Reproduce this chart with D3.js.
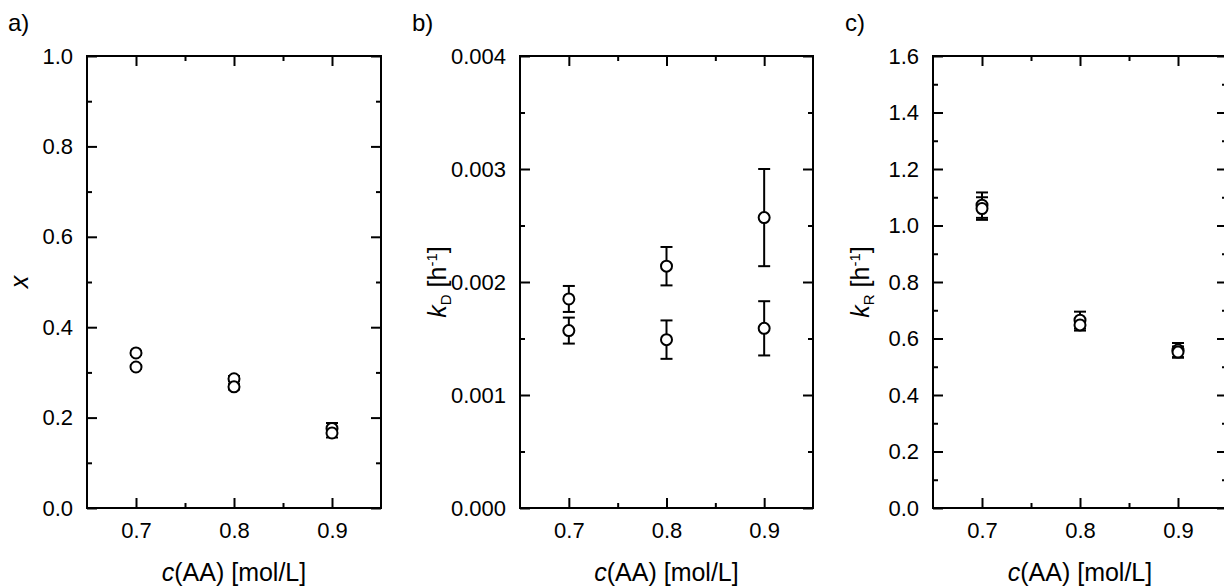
<!DOCTYPE html>
<html>
<head>
<meta charset="utf-8">
<script src="https://cdn.jsdelivr.net/npm/d3@7"></script>
<style>
  html, body { margin: 0; padding: 0; background: #fff; }
  svg { display: block; font-family: "Liberation Sans", Arial, sans-serif; }
</style>
</head>
<body>
<svg id="chart" width="1224" height="587"></svg>
<script>
// Acid concentration c(AA) [mol/L] for each measurement
const concA = [0.7, 0.7, 0.8, 0.8, 0.9, 0.9];
const concB = [0.7, 0.7, 0.8, 0.8, 0.9, 0.9];
const concC = [0.7, 0.7, 0.8, 0.8, 0.9, 0.9];

// a) fraction x with standard deviation
const xValues = [0.343, 0.312, 0.286, 0.268, 0.176, 0.166];
const xErrors = [0.004, 0.004, 0.006, 0.006, 0.012, 0.010];

// b) deactivation rate constant k_D [1/h]
const kDValues = [0.00185, 0.00157, 0.00214, 0.00149, 0.00257, 0.00159];
const kDErrors = [0.000115, 0.000115, 0.00017, 0.00017, 0.00043, 0.00024];

// c) rate constant k_R [1/h]
const kRValues = [1.072, 1.060, 0.665, 0.648, 0.559, 0.552];
const kRErrors = [0.045, 0.040, 0.030, 0.020, 0.025, 0.020];

// Axis ticks
const xMajorTicks = [0.7, 0.8, 0.9];
const xMinorTicks = [0.75, 0.85];
const xDomain = [0.65, 0.95];
const aMajorTicks = [0.0, 0.2, 0.4, 0.6, 0.8, 1.0];
const aMinorTicks = [0.1, 0.3, 0.5, 0.7, 0.9];
const bMajorTicks = [0.000, 0.001, 0.002, 0.003, 0.004];
const bMinorTicks = [0.0005, 0.0015, 0.0025, 0.0035];
const cMajorTicks = [0.0, 0.2, 0.4, 0.6, 0.8, 1.0, 1.2, 1.4, 1.6];
const cMinorTicks = [0.1, 0.3, 0.5, 0.7, 0.9, 1.1, 1.3, 1.5];

const svg = d3.select("#chart");
const plotTop = 56, plotBottom = 508;
const TICK_FONT = 22;
const TITLE_FONT = 25;

function drawPanel(opt) {
  const x = d3.scaleLinear().domain(xDomain).range([opt.left, opt.left + opt.width]);
  const y = d3.scaleLinear().domain(opt.yDomain).range([plotBottom, plotTop]);
  const g = svg.append("g");

  const styleAxis = sel => {
    sel.select(".domain").remove();
    sel.selectAll(".tick line").attr("stroke", "#000").attr("stroke-width", 2);
    sel.selectAll(".tick text").attr("fill", "#000").style("font-size", TICK_FONT + "px")
       .style("font-family", "'Liberation Sans', Arial, sans-serif");
  };

  // bottom
  g.append("g").attr("transform", `translate(0,${plotBottom})`)
    .call(d3.axisBottom(x).tickValues(xMajorTicks).tickSize(-10).tickPadding(14).tickFormat(d3.format(".1f")))
    .call(styleAxis);
  g.append("g").attr("transform", `translate(0,${plotBottom})`)
    .call(d3.axisBottom(x).tickValues(xMinorTicks).tickSize(-5).tickFormat(""))
    .call(styleAxis);
  // top
  g.append("g").attr("transform", `translate(0,${plotTop})`)
    .call(d3.axisTop(x).tickValues(xMajorTicks).tickSize(-10).tickFormat(""))
    .call(styleAxis);
  g.append("g").attr("transform", `translate(0,${plotTop})`)
    .call(d3.axisTop(x).tickValues(xMinorTicks).tickSize(-5).tickFormat(""))
    .call(styleAxis);
  // left
  g.append("g").attr("transform", `translate(${opt.left},0)`)
    .call(d3.axisLeft(y).tickValues(opt.major).tickSize(-10).tickPadding(14).tickFormat(d3.format(opt.fmt)))
    .call(styleAxis);
  g.append("g").attr("transform", `translate(${opt.left},0)`)
    .call(d3.axisLeft(y).tickValues(opt.minor).tickSize(-5).tickFormat(""))
    .call(styleAxis);
  // right
  const right = opt.left + opt.width;
  g.append("g").attr("transform", `translate(${right},0)`)
    .call(d3.axisRight(y).tickValues(opt.major).tickSize(-10).tickFormat(""))
    .call(styleAxis);
  g.append("g").attr("transform", `translate(${right},0)`)
    .call(d3.axisRight(y).tickValues(opt.minor).tickSize(-5).tickFormat(""))
    .call(styleAxis);

  // frame
  g.append("rect")
    .attr("x", x.range()[0]).attr("y", y.range()[1])
    .attr("width", x.range()[1] - x.range()[0]).attr("height", y.range()[0] - y.range()[1])
    .attr("fill", "none").attr("stroke", "#000").attr("stroke-width", 2);

  // error bars
  const pts = opt.xs.map((c, i) => ({ c, v: opt.vals[i], e: opt.errs[i] }));
  const eb = g.append("g").attr("stroke", "#000").attr("stroke-width", 2);
  pts.forEach(p => {
    const cx = x(p.c), y1 = y(p.v + p.e), y2 = y(p.v - p.e);
    eb.append("line").attr("x1", cx).attr("x2", cx).attr("y1", y1).attr("y2", y2);
    eb.append("line").attr("x1", cx - 6).attr("x2", cx + 6).attr("y1", y1).attr("y2", y1);
    eb.append("line").attr("x1", cx - 6).attr("x2", cx + 6).attr("y1", y2).attr("y2", y2);
  });

  // open circle markers
  g.append("g").selectAll("circle").data(pts).join("circle")
    .attr("cx", d => x(d.c)).attr("cy", d => y(d.v)).attr("r", 5.5)
    .attr("fill", "#fff").attr("stroke", "#000").attr("stroke-width", 2);

  // x axis title
  const xt = g.append("text")
    .attr("x", (x.range()[0] + x.range()[1]) / 2).attr("y", 581)
    .attr("text-anchor", "middle").style("font-size", TITLE_FONT + "px");
  xt.append("tspan").attr("font-style", "italic").text("c");
  xt.append("tspan").text("(AA) [mol/L]");

  // y axis title
  const yt = g.append("text")
    .attr("transform", `translate(${opt.titleX},${(plotTop + plotBottom) / 2}) rotate(-90)`)
    .attr("text-anchor", "middle").style("font-size", TITLE_FONT + "px");
  opt.yTitle(yt);

  // panel letter
  svg.append("text").attr("x", opt.letterX).attr("y", 31)
    .style("font-size", "24px").text(opt.letter);
}

function rateTitle(sub) {
  return t => {
    t.append("tspan").attr("font-style", "italic").text("k");
    t.append("tspan").attr("dy", 5).style("font-size", "15px").text(sub);
    t.append("tspan").attr("dy", -5).text(" [h");
    t.append("tspan").attr("dy", -9).style("font-size", "15px").text("-1");
    t.append("tspan").attr("dy", 9).text("]");
  };
}

drawPanel({
  left: 87, width: 294, yDomain: [0, 1], major: aMajorTicks, minor: aMinorTicks, fmt: ".1f",
  xs: concA, vals: xValues, errs: xErrors, letter: "a)", letterX: 8, titleX: 28,
  yTitle: t => t.append("tspan").attr("font-style", "italic").text("x")
});
drawPanel({
  left: 520, width: 293, yDomain: [0, 0.004], major: bMajorTicks, minor: bMinorTicks, fmt: ".3f",
  xs: concB, vals: kDValues, errs: kDErrors, letter: "b)", letterX: 412, titleX: 446,
  yTitle: rateTitle("D")
});
drawPanel({
  left: 933, width: 294, yDomain: [0, 1.6], major: cMajorTicks, minor: cMinorTicks, fmt: ".1f",
  xs: concC, vals: kRValues, errs: kRErrors, letter: "c)", letterX: 845, titleX: 869,
  yTitle: rateTitle("R")
});
</script>
</body>
</html>
